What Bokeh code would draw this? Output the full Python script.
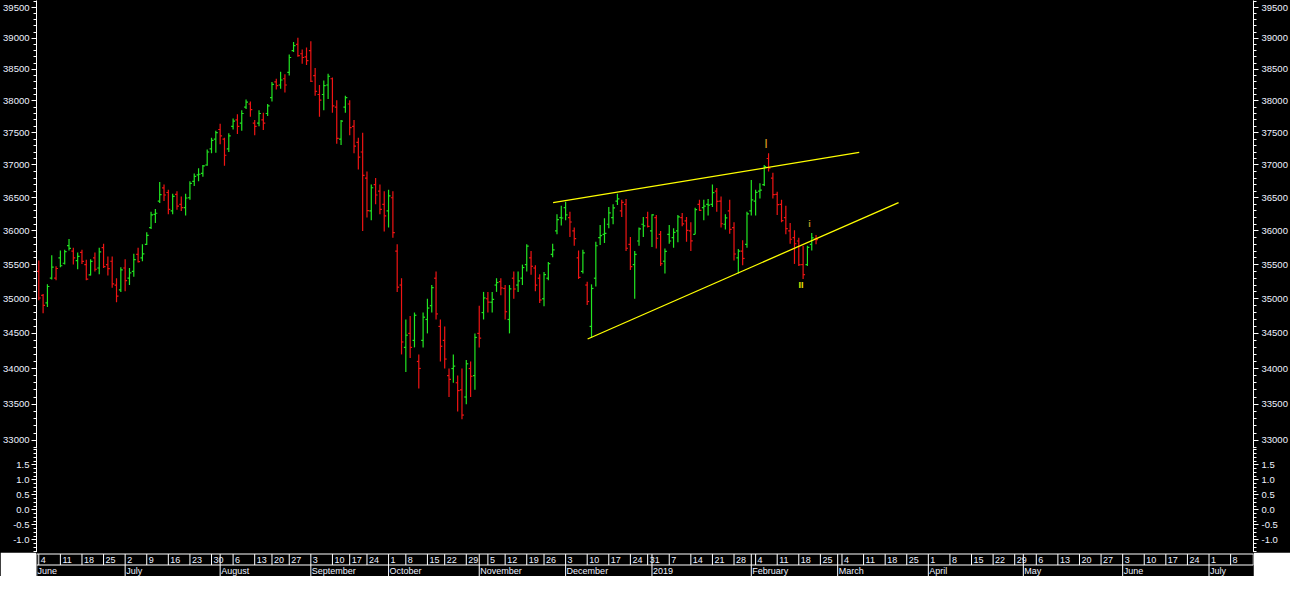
import numpy as np
import pandas as pd
from bokeh.plotting import figure
from bokeh.layouts import column
from bokeh.models import Range1d, FixedTicker, PrintfTickFormatter, LogAxis, LinearAxis, ColumnDataSource
from bokeh.embed import file_html
from bokeh.resources import INLINE
from bokeh.core.properties import value

# ---------------- data ----------------
holidays = ["2018-08-15", "2018-08-22", "2018-09-13", "2018-09-20", "2018-10-02",
            "2018-10-18", "2018-11-08", "2018-11-23", "2018-12-25"]
first_day = "2018-06-04"
last_axis_day = "2019-07-19"
prev_close = 35227

opens = [35400,35050,34940,35300,35300,35600,35520,35780,35700,35560,
         35680,35500,35350,35600,35450,35750,35500,35550,35200,35130,
         35450,35300,35400,35650,35600,35800,36050,36250,36450,36650,
         36580,36300,36550,36400,36350,36500,36750,36850,36870,37000,
         37250,37400,37550,37400,37250,37600,37700,37650,37900,37950,
         37650,37650,37700,37800,38050,38300,38250,38350,38450,38800,
         38900,38750,38700,38800,38400,38100,38100,38250,38350,37900,
         37400,37900,37950,37600,37350,37200,36800,36300,36700,36600,
         36400,36300,36500,35700,35200,34300,34500,34400,34100,34400,
         34700,34900,35300,34600,34400,33900,34000,33800,33700,33600,
         34000,33900,34500,34800,35000,34950,35200,35250,35150,34700,
         35300,35200,35300,35500,35600,35450,35300,35000,35300,35650,
         36000,36200,36350,36200,36000,35600,35400,35200,34600,35300,
         35900,35950,36100,36200,36450,36300,36400,35800,35500,35850,
         36100,36200,36000,36200,35950,35550,35950,35900,36000,36200,
         36150,36000,35950,36400,36350,36400,36400,36600,36450,36100,
         36300,36050,35600,35700,35800,36300,36450,36600,36700,37100,
         36800,36550,36400,36200,36000,35900,35850,35500,35500,35800,
         35880]
highs = [35560,35070,35210,35640,35475,35710,35720,35880,35750,35680,
         35720,35570,35580,35680,35750,35810,35620,35620,35300,35460,
         35580,35450,35660,35750,35800,35980,36290,36330,36740,36700,
         36620,36560,36600,36520,36560,36750,36870,36950,37000,37240,
         37420,37530,37640,37420,37490,37720,37790,37850,38020,37990,
         37700,37850,37810,37950,38300,38350,38460,38420,38740,38940,
         39010,38820,38850,38950,38520,38250,38320,38430,38370,38010,
         37700,38080,38010,37700,37420,37500,36900,36700,36800,36700,
         36600,36620,36600,35800,35300,34700,34750,34800,34200,34800,
         35000,35200,35400,34700,34600,34000,34200,33900,34000,34120,
         34100,34500,34900,35100,35100,35100,35300,35300,35200,35200,
         35400,35400,35500,35800,35700,35490,35360,35390,35540,35810,
         36250,36380,36440,36290,36050,35710,35720,35250,35210,35840,
         36090,36190,36360,36400,36560,36470,36480,35910,35700,36050,
         36210,36290,36250,36240,36000,35740,36090,36040,36240,36270,
         36210,36130,36350,36470,36470,36480,36700,36650,36520,36250,
         36470,36130,35730,35860,36290,36770,36620,36720,37000,37180,
         36880,36590,36470,36380,36120,36010,35900,35780,35780,35970,
         35940]
lows = [34980,34790,34880,35280,35270,35460,35500,35710,35500,35430,
        35510,35270,35340,35400,35360,35450,35340,35160,34950,35100,
        35110,35200,35320,35530,35550,35790,36030,36120,36420,36450,
        36250,36250,36320,36300,36230,36470,36680,36750,36820,36990,
        37180,37190,37320,36990,37200,37550,37480,37530,37870,37750,
        37460,37600,37540,37760,37990,38180,38190,38130,38400,38780,
        38700,38590,38570,38300,38080,37750,37850,38030,37810,37330,
        37310,37810,37460,37180,36930,36000,36200,36160,36400,36250,
        35990,36050,35900,35100,34200,33950,34150,34300,33720,34300,
        34500,34800,34700,34100,34000,33600,33800,33400,33290,33500,
        33600,33700,34300,34700,34800,34800,35100,35050,34700,34500,
        35000,35100,35200,35400,35350,35110,34940,34890,35270,35610,
        35950,36080,36160,35910,35780,35290,35370,34910,34440,35180,
        35790,35820,36040,36100,36390,36210,35700,35420,35000,35780,
        35910,36050,35760,35740,35480,35370,35810,35750,35830,36070,
        35840,35700,35950,36300,36160,36230,36360,36290,36050,36020,
        35960,35560,35370,35490,35750,36230,36230,36490,36680,36900,
        36490,36240,36130,35950,35810,35510,35480,35290,35480,35710,
        35800]
closes = [35011,34903,35179,35463,35443,35483,35692,35739,35599,35622,
          35548,35287,35547,35432,35689,35470,35440,35217,35037,35423,
          35264,35379,35574,35545,35658,35934,36240,36266,36548,36542,
          36324,36520,36374,36351,36496,36719,36825,36858,36985,37200,
          37380,37500,37450,37150,37450,37680,37600,37800,37980,37860,
          37600,37800,37650,37920,38260,38240,38330,38250,38690,38880,
          38720,38690,38640,38310,38150,38010,38240,38390,37920,37410,
          37680,38050,37580,37290,37120,36840,36305,36652,36542,36324,
          36227,36527,35975,35169,34377,34474,34300,34761,34001,34733,
          34865,35162,34780,34316,34134,33847,34034,33690,33349,34067,
          33891,34442,34432,35012,34951,34991,35237,35158,34812,35144,
          35142,35260,35457,35775,35475,35199,34982,35354,35514,35717,
          36170,36194,36241,36134,35884,35312,35673,34960,35150,35779,
          35929,35963,36270,36347,36484,36431,35742,35470,35650,36030,
          36076,36068,36240,35891,35514,35695,35850,35980,36212,36107,
          36010,35853,36319,36310,36374,36387,36579,36445,36108,36195,
          36025,35657,35700,35591,36257,36469,36583,36617,36975,36950,
          36546,36395,36154,36034,35876,35809,35498,35352,35756,35898,
          35871]

# trend lines (bar position, price)
upper_trend_pos = [119.1, 190.0]
upper_trend_val = [36427, 37193]
lower_trend_pos = [127.1, 199.1]
lower_trend_val = [34420, 36427]

# expert symbols (bar position, price, text, colour)
sym_pos = [168.4, 178.5, 176.5]
sym_val = [37332, 36106, 35202]
sym_text = ["|", "i", "II"]
sym_color = ["#e0a020", "#b89a20", "#e6e600"]

price_ticks = list(range(33000, 40000, 500))
price_minor = list(range(32900, 39700, 100))
ind_ticks = [-1.0, -0.5, 0.0, 0.5, 1.0, 1.5]
ind_minor = [round(v, 3) for v in np.arange(-1.375, 2.05, 0.125)]

# ---------------- calendar ----------------
cal = pd.bdate_range(first_day, last_axis_day)
cal = cal[~cal.isin(pd.to_datetime(holidays))]
n = len(closes)
xs = np.arange(n)

X0, X1 = -0.53, 281.3
xr = Range1d(X0, X1)

GREEN = "#22e622"
RED = "#f01414"
prevs = [prev_close] + closes[:-1]
cols = [GREEN if c >= pc else RED for c, pc in zip(closes, prevs)]
tick = 0.45
src = ColumnDataSource(dict(x=xs, o=opens, h=highs, l=lows, c=closes, col=cols,
                            xl=xs - tick, xr=xs + tick))

W = 1290
LB, RB = 36, 35
FONT = "Liberation Sans"
LABEL_COLOR = "#eef2ff"


def style_axis(ax, standoff):
    ax.axis_line_color = "white"
    ax.major_tick_line_color = "white"
    ax.minor_tick_line_color = "white"
    ax.major_tick_out = 5
    ax.major_tick_in = 0
    ax.minor_tick_out = 3
    ax.minor_tick_in = 0
    ax.major_label_text_color = LABEL_COLOR
    ax.major_label_text_font = FONT
    ax.major_label_text_font_size = "9.5px"
    ax.major_label_standoff = standoff


# ---------------- price panel ----------------
p = figure(width=W, height=448, x_range=xr, y_range=Range1d(32889, 39617),
           y_axis_type="log", output_backend="svg", toolbar_location=None,
           background_fill_color=None, border_fill_color=None,
           min_border_left=LB, min_border_right=RB, min_border_top=0, min_border_bottom=0,
           x_axis_location=None, y_axis_location="left", outline_line_color=None)
p.grid.visible = False
pt = FixedTicker(ticks=price_ticks, minor_ticks=price_minor)
p.yaxis.ticker = pt
p.yaxis.formatter = PrintfTickFormatter(format="%d")
style_axis(p.yaxis[0], 2)
ra = LogAxis(ticker=FixedTicker(ticks=price_ticks, minor_ticks=price_minor),
             formatter=PrintfTickFormatter(format="%d"))
style_axis(ra, 3)
p.add_layout(ra, "right")

BW = 1.2
p.segment(x0="x", x1="x", y0="l", y1="h", color="col", line_width=BW, source=src)
p.segment(x0="xl", x1="x", y0="o", y1="o", color="col", line_width=BW, source=src)
p.segment(x0="x", x1="xr", y0="c", y1="c", color="col", line_width=BW, source=src)

p.line(upper_trend_pos, upper_trend_val, line_color="#ffff00", line_width=1.3)
p.line(lower_trend_pos, lower_trend_val, line_color="#ffff00", line_width=1.3)

p.text(x=sym_pos, y=sym_val, text=sym_text, text_color=sym_color,
       text_font=value(FONT), text_font_size="9px", text_align="center",
       text_baseline="middle", text_font_style="bold")

# ---------------- indicator panel ----------------
p2 = figure(width=W, height=104, x_range=xr, y_range=Range1d(-1.42, 2.05),
            output_backend="svg", toolbar_location=None,
            background_fill_color=None, border_fill_color=None,
            min_border_left=LB, min_border_right=RB, min_border_top=0, min_border_bottom=0,
            x_axis_location=None, y_axis_location="left", outline_line_color=None)
p2.grid.visible = False
p2.yaxis.ticker = FixedTicker(ticks=ind_ticks, minor_ticks=ind_minor)
p2.yaxis.formatter = PrintfTickFormatter(format="%.1f")
style_axis(p2.yaxis[0], 2)
ra2 = LinearAxis(ticker=FixedTicker(ticks=ind_ticks, minor_ticks=ind_minor),
                 formatter=PrintfTickFormatter(format="%.1f"))
style_axis(ra2, 3)
p2.add_layout(ra2, "right")

# ---------------- date axis ----------------
p3 = figure(width=W, height=24, x_range=xr, y_range=Range1d(0, 24),
            output_backend="svg", toolbar_location=None,
            background_fill_color="black", border_fill_color="white",
            min_border_left=LB, min_border_right=RB, min_border_top=0, min_border_bottom=0,
            x_axis_location=None, y_axis_location=None, outline_line_color=None)
p3.grid.visible = False

week_idx = [i for i, d in enumerate(cal) if d.weekday() == 0 and i < X1 - 0.6]
week_lab = [str(cal[i].day) for i in week_idx]
month_idx = [i for i in range(len(cal)) if i > 0 and cal[i].month != cal[i - 1].month and i < X1]
month_lab = ["2019" if (cal[i].month == 1) else cal[i].strftime("%B") for i in month_idx]
month_x = [X0 + 0.02] + month_idx
month_lab = [cal[0].strftime("%B")] + month_lab

# horizontal borders
p3.segment(x0=[X0, X0], x1=[X1, X1], y0=[22.5, 11.5], y1=[22.5, 11.5], color="white", line_width=1)
# row 1 verticals
r1 = sorted(set(week_idx + month_idx)) + [X0 + 0.05, X1 - 0.05]
p3.segment(x0=r1, x1=r1, y0=[11.5] * len(r1), y1=[22.5] * len(r1), color="white", line_width=1)
# row 2 verticals
r2 = month_idx + [X0 + 0.05]
p3.segment(x0=r2, x1=r2, y0=[0] * len(r2), y1=[11.5] * len(r2), color="white", line_width=1)

p3.text(x=week_idx, y=[17] * len(week_idx), text=week_lab, text_color=LABEL_COLOR,
        text_font=value(FONT), text_font_size="9px", text_baseline="middle", x_offset=2)
p3.text(x=month_x, y=[5.5] * len(month_x), text=month_lab, text_color=LABEL_COLOR,
        text_font=value(FONT), text_font_size="9px", text_baseline="middle", x_offset=1)

layout = column(p, p2, p3, spacing=0, styles={"background-color": "black"})
open("out.html", "w").write(file_html(layout, INLINE))
